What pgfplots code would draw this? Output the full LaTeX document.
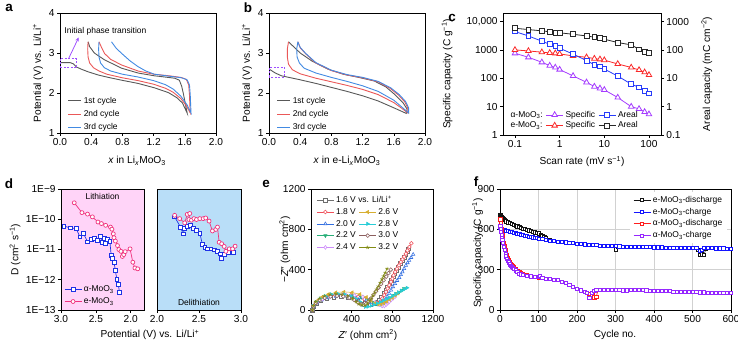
\documentclass[border=0pt]{standalone}
\usepackage{fontspec}
\setmainfont{Liberation Sans}
\usepackage{pgfplots}
\pgfplotsset{compat=1.18}
\usetikzlibrary{arrows.meta}

% galvanostatic cycles (a, b)
\definecolor{cyc1}{RGB}{88,88,88}
\definecolor{cyc2}{RGB}{234,88,88}
\definecolor{cyc3}{RGB}{66,138,226}
\definecolor{hl}{RGB}{160,80,255}
% rate capability (c)
\definecolor{aSpec}{RGB}{165,60,255}
\definecolor{eSpec}{RGB}{250,40,40}
\definecolor{aAreal}{RGB}{40,60,250}
\definecolor{eAreal}{RGB}{40,40,40}
% diffusion coefficients (d)
\definecolor{dBlue}{RGB}{30,50,230}
\definecolor{dPink}{RGB}{240,50,125}
\definecolor{bgPink}{RGB}{255,212,248}
\definecolor{bgBlue}{RGB}{185,222,248}
% impedance (e)
\definecolor{z16}{RGB}{110,110,110}
\definecolor{z18}{RGB}{240,80,90}
\definecolor{z20}{RGB}{50,110,225}
\definecolor{z22}{RGB}{40,175,120}
\definecolor{z24}{RGB}{205,140,250}
\definecolor{z26}{RGB}{215,175,50}
\definecolor{z28}{RGB}{40,205,215}
\definecolor{z30}{RGB}{140,95,95}
\definecolor{z32}{RGB}{130,140,20}
% cycling (f)
\definecolor{fBlack}{RGB}{20,20,20}
\definecolor{fBlue}{RGB}{20,20,255}
\definecolor{fRed}{RGB}{255,30,30}
\definecolor{fPurple}{RGB}{150,40,255}

\newcommand{\lab}{\fontsize{10.2}{12}\selectfont}
\newcommand{\leg}{\fontsize{8.5}{10}\selectfont}
\newcommand{\pan}{\fontsize{13.5}{14}\selectfont\bfseries}

\pgfplotsset{
  pan/.style={
    scale only axis, anchor=south west,
    axis line style={line width=0.55pt},
    every tick/.style={black, line width=0.55pt},
    tick align=outside, major tick length=3bp,
    xtick pos=bottom, ytick pos=left,
    tick label style={font=\lab, inner sep=2.2bp},
    label style={font=\lab},
    legend style={font=\leg, draw=none, fill=none},
    legend cell align=left,
  },
  cycleaxis/.style={
    pan, width=156bp, height=120bp,
    xmin=0, xmax=2, ymin=1, ymax=4,
    xtick={0,0.4,0.8,1.2,1.6,2}, xticklabels={0.0,0.4,0.8,1.2,1.6,2.0},
    ytick={1,2,3,4}, yticklabels={1,2,3,4},
    ylabel={Potential (V) vs. Li/Li\textsuperscript{+}},
    ylabel style={at={(axis description cs:-0.141,0.5)}, anchor=center},
    legend image code/.code={\draw[#1] (0bp,0bp) -- (13bp,0bp);},
    legend style={at={(axis description cs:0.03,0.335)}, anchor=north west, row sep=1.6bp},
  },
  cl/.style={line width=0.9pt},
  spec/.style={line width=0.8pt, mark=triangle*, mark size=3.2pt, mark options={fill=white, solid}},
  areal/.style={line width=0.8pt, mark=square*, mark size=2.4pt, mark options={fill=white, solid}},
  dsq/.style={dBlue, line width=0.7pt, mark=square*, mark size=1.9pt, mark options={fill=white}},
  dci/.style={dPink, line width=0.7pt, mark=*, mark size=2pt, mark options={fill=white}},
  zs/.style={line width=0.5pt, mark size=1.9pt, mark options={fill=white, line width=0.55pt, solid}},
  s16/.style={zs, z16, mark=square*},
  s18/.style={zs, z18, mark=*},
  s20/.style={zs, z20, mark=triangle*},
  s22/.style={zs, z22, mark=triangle*, mark options={rotate=180}},
  s24/.style={zs, z24, mark=diamond*},
  s26/.style={zs, z26, mark=triangle*, mark options={rotate=90}},
  s28/.style={zs, z28, mark=triangle*, mark options={rotate=-90}},
  s30/.style={zs, z30, mark=*},
  s32/.style={zs, z32, mark=star},
  fs/.style={line width=0.6pt, mark=square*, mark size=1.6pt, mark options={fill=white}},
}

\begin{document}
\begin{tikzpicture}
\useasboundingbox (0,0) rectangle (738bp,340bp);

% ---------------- a: alpha-MoO3 cycles ----------------
\begin{axis}[cycleaxis, at={(60bp,207bp)},
  xlabel={\textit{x} in Li\textsubscript{\textit{x}}MoO\textsubscript{3}},
  xlabel style={at={(axis description cs:0.494,-0.233)}, anchor=center}]
\addplot[cyc1, cl] coordinates {(0,2.76)(0.13,2.76)(0.17,2.73)(0.21,2.65)(0.28,2.59)(0.36,2.53)(0.49,2.45)(0.62,2.39)(0.79,2.32)(1.0,2.24)(1.21,2.13)(1.39,2.01)(1.5,1.88)(1.57,1.75)(1.63,1.5)
  (1.62,1.6)(1.6,1.8)(1.58,2.0)(1.56,2.17)(1.53,2.32)(1.47,2.37)(1.3,2.41)(1.21,2.43)(1.0,2.5)(0.79,2.62)(0.57,2.83)(0.44,3.0)(0.38,3.16)(0.36,3.28)};
\addlegendentry{1st cycle}
\addplot[cyc2, cl] coordinates {(0.36,3.28)(0.355,3.1)(0.36,2.9)(0.38,2.75)(0.43,2.63)(0.5,2.55)(0.6,2.47)(0.8,2.38)(1.0,2.31)(1.2,2.22)(1.35,2.12)(1.45,2.02)(1.55,1.86)(1.62,1.68)(1.67,1.5)
  (1.665,1.7)(1.66,1.95)(1.65,2.2)(1.62,2.34)(1.55,2.39)(1.4,2.43)(1.2,2.47)(1.0,2.55)(0.79,2.70)(0.65,2.84)(0.57,2.99)(0.53,3.15)(0.5,3.28)};
\addlegendentry{2nd cycle}
\addplot[cyc3, cl] coordinates {(0.5,3.28)(0.495,3.1)(0.5,2.9)(0.52,2.75)(0.57,2.63)(0.65,2.55)(0.8,2.47)(1.0,2.4)(1.2,2.31)(1.35,2.21)(1.45,2.1)(1.55,1.92)(1.63,1.7)(1.68,1.5)
  (1.675,1.7)(1.67,1.95)(1.66,2.2)(1.63,2.33)(1.56,2.38)(1.4,2.42)(1.21,2.47)(1.1,2.55)(1.0,2.66)(0.9,2.8)(0.79,2.99)(0.72,3.12)(0.66,3.28)};
\addlegendentry{3rd cycle}
\draw[hl, line width=0.7pt, dash pattern=on 2bp off 1.5bp] (axis cs:0,2.63) rectangle (axis cs:0.21,2.86);
\draw[hl, line width=0.8pt, -{Stealth[length=4bp,width=3.5bp]}] (axis cs:0.11,2.86) -- (axis cs:0.24,3.39);
\node[anchor=west, font=\leg, inner sep=0pt] at (axis cs:0.055,3.53) {Initial phase transition};
\end{axis}

% ---------------- b: e-MoO3 cycles ----------------
\begin{axis}[cycleaxis, at={(269bp,207bp)},
  xlabel={\textit{x} in e-Li\textsubscript{\textit{x}}MoO\textsubscript{3}},
  xlabel style={at={(axis description cs:0.5,-0.233)}, anchor=center}]
\addplot[cyc1, cl] coordinates {(0,2.6)(0.08,2.5)(0.16,2.43)(0.4,2.33)(0.6,2.24)(0.8,2.14)(1.0,2.04)(1.2,1.93)(1.4,1.8)(1.6,1.63)(1.76,1.49)
  (1.77,1.6)(1.72,1.75)(1.62,1.95)(1.5,2.15)(1.35,2.3)(1.15,2.39)(0.95,2.47)(0.75,2.6)(0.55,2.8)(0.4,3.0)(0.25,3.28)};
\addlegendentry{1st cycle}
\addplot[cyc2, cl] coordinates {(0.25,3.28)(0.235,3.1)(0.235,2.9)(0.25,2.72)(0.3,2.58)(0.4,2.48)(0.6,2.37)(0.8,2.28)(1.0,2.19)(1.2,2.09)(1.4,1.96)(1.6,1.76)(1.7,1.62)(1.78,1.5)
  (1.78,1.62)(1.74,1.78)(1.66,1.95)(1.55,2.12)(1.4,2.28)(1.2,2.38)(1.0,2.45)(0.8,2.56)(0.6,2.75)(0.47,2.98)(0.4,3.13)(0.37,3.28)};
\addlegendentry{2nd cycle}
\addplot[cyc3, cl] coordinates {(0.37,3.28)(0.355,3.1)(0.36,2.9)(0.39,2.75)(0.45,2.62)(0.6,2.5)(0.8,2.39)(1.0,2.29)(1.2,2.18)(1.4,2.04)(1.6,1.82)(1.72,1.62)(1.79,1.5)
  (1.79,1.63)(1.75,1.79)(1.67,1.96)(1.56,2.13)(1.4,2.29)(1.2,2.39)(1.0,2.46)(0.8,2.57)(0.6,2.76)(0.47,2.99)(0.4,3.14)(0.37,3.28)};
\addlegendentry{3rd cycle}
\draw[hl, line width=0.7pt, dash pattern=on 2bp off 1.5bp] (axis cs:0,2.4) rectangle (axis cs:0.2,2.63);
\end{axis}

% ---------------- c: rate capability ----------------
\begin{axis}[pan, at={(503bp,205bp)}, width=158bp, height=122bp,
  xmode=log, ymode=log, xmin=0.054, xmax=186, ymin=1, ymax=2e4,
  xminorticks=false, yminorticks=false,
  xtick={0.1,1,10,100}, xticklabels={0.1,1,10,100},
  ytick={1,10,100,1000,10000}, yticklabels={1,10,100,1000,10{,}000},
  xlabel={Scan rate (mV s\textsuperscript{−1})},
  xlabel style={at={(axis description cs:0.5,-0.219)}, anchor=center},
  ylabel={Specific capacity (C g\textsuperscript{−1})},
  ylabel style={at={(axis description cs:-0.354,0.5)}, anchor=center}]
\addplot[aSpec, spec] coordinates {(0.1,760)(0.2,550)(0.4,366)(0.6,280)(0.8,240)(1,203)(2,121)(4,72)(6,51)(8,44)(10,39)(20,21)(40,10)(60,8.3)(80,6.5)(100,5.4)};
\addplot[eSpec, spec] coordinates {(0.1,1000)(0.2,920)(0.4,830)(0.6,785)(0.8,760)(1,720)(2,615)(4,550)(6,495)(8,466)(10,435)(20,320)(40,240)(60,196)(80,163)(100,131)};
\end{axis}
\begin{axis}[pan, at={(503bp,205bp)}, width=158bp, height=122bp,
  xmode=log, ymode=log, xmin=0.054, xmax=186, ymin=0.1, ymax=2e3,
  axis y line*=right, axis x line=none, ytick pos=right, yticklabel pos=right,
  xminorticks=false, yminorticks=false,
  ytick={0.1,1,10,100,1000}, yticklabels={0.1,1,10,100,1000},
  ylabel={Areal capacity (mC cm\textsuperscript{−2})},
  ylabel style={at={(axis description cs:1.29,0.5)}, anchor=center},
  legend columns=3,
  legend style={at={(axis description cs:0.015,0.012)}, anchor=south west, row sep=-1bp,
    /tikz/every even column/.append style={column sep=1bp}}]
\addplot[aAreal, areal, forget plot] coordinates {(0.1,445)(0.2,310)(0.4,203)(0.6,158)(0.8,138)(1,115)(2,71)(4,42)(6,30)(8,26)(10,21)(20,12)(40,6.2)(60,4.8)(80,3.7)(100,2.95)};
\addplot[eAreal, areal, forget plot] coordinates {(0.1,580)(0.2,520)(0.4,470)(0.6,435)(0.8,410)(1,400)(2,355)(4,310)(6,280)(8,257)(10,238)(20,182)(40,150)(60,105)(80,87)(100,76)};
\addlegendimage{empty legend}\addlegendentry{α-MoO\textsubscript{3}:}
\addlegendimage{aSpec, spec}\addlegendentry{Specific}
\addlegendimage{aAreal, areal}\addlegendentry{Areal}
\addlegendimage{empty legend}\addlegendentry{e-MoO\textsubscript{3}:}
\addlegendimage{eSpec, spec}\addlegendentry{Specific}
\addlegendimage{eAreal, areal}\addlegendentry{Areal}
\end{axis}

% ---------------- d: diffusion coefficients ----------------
\begin{axis}[pan, at={(61bp,30bp)}, width=83bp, height=121bp,
  axis background/.style={fill=bgPink},
  x dir=reverse, xmin=1.81, xmax=3.0,
  ymode=log, ymin=1e-13, ymax=1e-9, yminorticks=false,
  xtick={2,2.5,3}, xticklabels={2.0,2.5,3.0},
  ytick={1e-13,1e-12,1e-11,1e-10,1e-9}, yticklabels={1E−13,1E−12,1E−11,1E−10,1E−9},
  ylabel={D (cm\textsuperscript{2} s\textsuperscript{−1})},
  ylabel style={at={(axis description cs:-0.554,0.5)}, anchor=center},
  xlabel={Potential (V) vs. Li/Li\textsuperscript{+}},
  xlabel style={at={(axis description cs:1.072,-0.207)}, anchor=center},
  legend style={at={(axis description cs:0.0,0.005)}, anchor=south west, row sep=0.5bp}]
\addplot[dsq] coordinates {(2.96,6.0e-11)(2.87,5.2e-11)(2.78,4.9e-11)(2.73,2.6e-11)(2.68,3.5e-11)(2.62,1.8e-11)(2.57,2.2e-11)(2.52,2.4e-11)(2.48,2.0e-11)(2.44,2.8e-11)(2.41,1.75e-11)(2.38,2.4e-11)(2.36,1.6e-11)(2.33,2.2e-11)(2.30,1.9e-11)(2.28,6.3e-12)(2.26,5.0e-12)(2.24,3.8e-12)(2.22,2.0e-12)(2.20,1.05e-12)(2.18,7.0e-13)(2.16,3.8e-13)};
\addlegendentry{α-MoO\textsubscript{3}}
\addplot[dci] coordinates {(2.81,3.5e-10)(2.70,1.66e-10)(2.62,1.48e-10)(2.55,1.2e-10)(2.47,8.1e-11)(2.42,7.2e-11)(2.36,6.3e-11)(2.29,5.5e-11)(2.27,4.7e-11)(2.25,3.3e-11)(2.24,2.45e-11)(2.22,1.9e-11)(2.19,1.35e-11)(2.17,1.0e-11)(2.14,8.7e-12)(2.12,5.9e-12)(2.10,6.8e-12)(2.08,8.5e-12)(2.01,1.05e-11)(1.97,3.8e-12)(1.94,2.45e-12)(1.90,2.3e-12)};
\addlegendentry{e-MoO\textsubscript{3}}
\node[font=\leg] at (axis description cs:0.5,0.942) {Lithiation};
\end{axis}
\begin{axis}[pan, at={(157bp,30bp)}, width=84bp, height=121bp,
  axis background/.style={fill=bgBlue},
  xmin=2, xmax=3.0,
  ymode=log, ymin=1e-13, ymax=1e-9, yminorticks=false, ytick=\empty,
  xtick={2,2.5,3}, xticklabels={2.0,2.5,3.0}]
\addplot[dsq] coordinates {(2.21,1.2e-10)(2.28,5.5e-11)(2.31,3.3e-11)(2.33,4.9e-11)(2.36,5.9e-11)(2.40,6.3e-11)(2.43,4.9e-11)(2.47,4.3e-11)(2.51,3.5e-11)(2.54,1.48e-11)(2.57,1.2e-11)(2.60,1.05e-11)(2.64,1.05e-11)(2.68,9.8e-12)(2.72,8.7e-12)(2.75,7.2e-12)(2.77,5.2e-12)(2.80,6.8e-12)(2.85,8.1e-12)(2.91,8.1e-12)};
\addplot[dci] coordinates {(2.21,1.35e-10)(2.27,1.05e-10)(2.33,7.6e-11)(2.36,1.45e-10)(2.39,1.55e-10)(2.38,9.8e-11)(2.41,9.3e-11)(2.44,1.05e-10)(2.47,9.8e-11)(2.51,1.05e-10)(2.55,1.05e-10)(2.58,1.1e-10)(2.62,8.7e-11)(2.66,4.1e-11)(2.70,4.6e-11)(2.72,5.5e-11)(2.74,1.74e-11)(2.77,1.55e-11)(2.80,1.26e-11)(2.82,8.7e-12)(2.86,1.05e-11)(2.90,1.05e-11)(2.93,1.29e-11)};
\node[font=\leg] at (axis description cs:0.5,0.066) {Delithiation};
\end{axis}

% ---------------- e: impedance spectra ----------------
\begin{axis}[pan, at={(311bp,30bp)}, width=122bp, height=121bp, clip=false,
  xmin=0, xmax=1200, ymin=0, ymax=1200,
  xtick={0,400,800,1200}, xticklabels={0,400,800,1200},
  ytick={0,400,800,1200}, yticklabels={0,400,800,1200},
  xlabel={\textit{Z}′ (ohm cm\textsuperscript{2})},
  xlabel style={at={(axis description cs:0.467,-0.207)}, anchor=center},
  ylabel={−\textit{Z}″ (ohm cm\textsuperscript{2})},
  ylabel style={at={(axis description cs:-0.215,0.5)}, anchor=center},
  legend columns=2,
  legend style={at={(axis description cs:0.02,0.975)}, anchor=north west, row sep=0.4bp,
    /tikz/every even column/.append style={column sep=1bp}}]
\addplot[s16, forget plot] coordinates {(15,0)(25,35)(53,68)(97,95)(155,117)(223,130)(295,135)(367,130)(435,117)(493,95)(537,72)(580,60)(620,68)(650,82)(673,100)(695,132)(715,165)(735,198)(754,230)(775,262)(793,295)(810,330)(825,360)(842,395)(858,426)(880,460)(900,492)(918,520)(933,548)(945,578)(955,608)};
\addplot[s18, forget plot] coordinates {(15,0)(25,39)(55,75)(103,106)(165,130)(238,145)(315,150)(392,145)(465,130)(527,106)(575,80)(615,66)(650,70)(680,85)(700,115)(721,148)(737,180)(754,213)(770,246)(787,279)(800,310)(812,344)(828,377)(845,410)(865,443)(884,476)(900,502)(916,528)(933,558)(949,590)(968,625)(988,662)};
\addplot[s20, forget plot] coordinates {(15,0)(26,36)(57,70)(106,99)(170,121)(245,135)(325,140)(405,135)(480,121)(544,99)(593,72)(640,62)(680,68)(715,82)(732,107)(748,131)(768,164)(787,197)(806,230)(826,262)(847,292)(868,321)(884,350)(900,377)(916,410)(933,443)(950,468)(965,492)(985,520)(1005,551)};
\addplot[s22, forget plot] coordinates {(15,0)(26,38)(58,73)(108,103)(175,126)(252,140)(335,145)(418,140)(495,126)(562,103)(612,75)(650,58)(690,50)(728,59)(750,78)(770,98)(795,122)(819,145)(843,162)(868,178)(893,195)(915,212)};
\addplot[s24, forget plot] coordinates {(15,0)(26,39)(59,75)(111,106)(180,130)(260,145)(345,150)(430,145)(510,130)(579,106)(631,77)(670,52)(700,40)(721,40)(738,52)(754,66)(770,82)(787,98)(806,115)(826,131)};
\addplot[s26, forget plot] coordinates {(15,0)(26,47)(57,90)(106,127)(170,156)(245,174)(325,180)(405,174)(480,156)(544,127)(593,92)(630,68)(660,56)(690,58)(718,68)(745,84)(772,103)(800,122)(828,143)(855,165)};
\addplot[s28, forget plot] coordinates {(15,0)(24,41)(49,80)(88,113)(140,139)(201,155)(265,160)(330,155)(390,139)(442,113)(482,82)(510,50)(535,32)(560,33)(590,42)(620,53)(650,66)(680,80)(710,94)(740,108)(770,123)(800,139)(830,157)(860,175)(890,192)(918,206)(944,220)};
\addplot[s30, forget plot] coordinates {(15,0)(23,36)(47,70)(85,99)(135,121)(193,135)(255,140)(317,135)(375,121)(425,99)(463,72)(492,56)(518,52)(542,62)(565,85)(590,115)(615,150)(640,185)(665,222)(690,258)(715,295)(740,332)(762,365)(785,400)};
\addplot[s32, forget plot] coordinates {(15,0)(23,41)(46,80)(82,113)(130,139)(186,155)(245,160)(304,155)(360,139)(408,113)(444,82)(470,60)(500,50)(530,47)(555,65)(575,90)(592,115)(610,145)(628,175)(645,205)(662,235)(680,270)(697,305)(713,335)(730,370)(748,410)};
\addlegendimage{s16}\addlegendentry{\rlap{1.6 V vs. Li/Li\textsuperscript{+}}}
\addlegendimage{empty legend}\addlegendentry{}
\addlegendimage{s18}\addlegendentry{1.8 V}
\addlegendimage{s26}\addlegendentry{2.6 V}
\addlegendimage{s20}\addlegendentry{2.0 V}
\addlegendimage{s28}\addlegendentry{2.8 V}
\addlegendimage{s22}\addlegendentry{2.2 V}
\addlegendimage{s30}\addlegendentry{3.0 V}
\addlegendimage{s24}\addlegendentry{2.4 V}
\addlegendimage{s32}\addlegendentry{3.2 V}
\end{axis}

% ---------------- f: long-term cycling ----------------
\begin{axis}[pan, at={(500bp,30bp)}, width=231bp, height=121bp,
  xmin=0, xmax=600, ymin=0, ymax=900,
  grid=major, grid style={line width=0.5pt, black!18},
  xtick={0,100,200,300,400,500,600}, xticklabels={0,100,200,300,400,500,600},
  ytick={0,300,600,900}, yticklabels={0,300,600,900},
  xlabel={Cycle no.},
  xlabel style={at={(axis description cs:0.498,-0.207)}, anchor=center},
  ylabel={Specific capacity (C g\textsuperscript{−1})},
  ylabel style={at={(axis description cs:-0.097,0.47)}, anchor=center},
  legend style={at={(axis description cs:0.985,0.975)}, anchor=north east, fill=white, row sep=0.2bp}]
\addplot[fBlack, fs] coordinates {(1,706)(3,700)(5,692)(8,684)(10,676)(13,668)(16,660)(20,652)(25,646)(30,640)(35,634)(40,628)(45,622)(50,617)(55,612)(60,607)(65,602)(70,598)(75,593)(80,588)(85,583)(90,578)(95,574)(100,570)(105,562)(110,553)(115,543)(120,535)(130,522)(140,515)(150,510)(160,506)(170,503)(180,500)(190,497)(200,495)(210,492)(220,489)(230,487)(240,485)(250,482)(260,480)(270,478)(280,477)(290,476)(295,475)(300,452)(305,474)(310,474)(320,473)(330,472)(340,471)(350,470)(360,469)(370,469)(380,468)(390,468)(400,467)(410,466)(420,466)(430,465)(440,465)(450,464)(460,464)(470,463)(480,463)(490,462)(500,462)(510,461)(515,450)(520,410)(525,415)(530,412)(535,455)(540,460)(550,460)(560,459)(570,459)(580,459)(590,458)(600,458)};
\addlegendentry{e-MoO\textsubscript{3}-discharge}
\addplot[fBlue, fs] coordinates {(1,612)(3,608)(5,603)(8,598)(10,596)(13,593)(16,590)(20,588)(25,584)(30,580)(35,576)(40,572)(45,568)(50,565)(55,561)(60,557)(65,553)(70,550)(75,547)(80,544)(85,541)(90,538)(95,535)(100,532)(110,527)(120,522)(130,517)(140,513)(150,510)(160,506)(170,503)(180,500)(190,497)(200,495)(210,491)(220,489)(230,486)(240,484)(250,482)(260,480)(270,478)(280,477)(290,476)(300,475)(310,474)(320,473)(330,472)(340,471)(350,470)(360,469)(370,469)(380,468)(390,468)(400,467)(410,466)(420,466)(430,465)(440,465)(450,464)(460,464)(470,463)(480,463)(490,462)(500,462)(510,461)(520,440)(525,445)(530,460)(540,460)(550,460)(560,459)(570,459)(580,459)(590,458)(600,458)};
\addlegendentry{e-MoO\textsubscript{3}-charge}
\addplot[fRed, fs] coordinates {(1,675)(2,650)(3,625)(4,600)(5,580)(6,560)(8,530)(10,500)(12,475)(14,450)(16,430)(18,410)(20,390)(22,372)(25,355)(28,342)(30,335)(33,325)(36,318)(40,305)(45,292)(50,280)(55,273)(60,268)(70,258)(80,250)(90,245)(100,243)(104,252)(110,240)(120,235)(130,230)(140,226)(150,222)(160,212)(170,200)(180,186)(190,172)(200,160)(210,146)(220,135)(225,125)(230,122)(240,128)(245,95)(250,100)(255,148)(260,152)(270,150)(280,150)(290,149)(300,148)(310,148)(320,147)(330,146)(340,148)(350,152)(360,150)(370,148)(380,146)(390,145)(400,145)(410,143)(420,142)(430,140)(440,140)(450,138)(460,137)(470,136)(480,135)(490,134)(500,134)(510,133)(520,132)(530,131)(540,130)(550,130)(560,129)(570,128)(580,128)(590,127)(600,126)};
\addlegendentry{α-MoO\textsubscript{3}-discharge}
\addplot[fPurple, fs] coordinates {(1,622)(2,600)(3,580)(4,560)(5,540)(6,525)(8,500)(10,470)(12,445)(14,420)(16,400)(18,382)(20,368)(22,355)(25,340)(28,328)(30,320)(33,312)(36,305)(40,295)(45,283)(50,272)(55,266)(60,262)(70,255)(80,250)(90,246)(100,244)(104,252)(110,240)(120,235)(130,230)(140,226)(150,222)(160,212)(170,200)(180,186)(190,172)(200,160)(210,146)(220,135)(225,125)(232,92)(238,128)(245,140)(250,150)(260,152)(270,150)(280,150)(290,149)(300,148)(310,148)(320,147)(330,146)(340,148)(350,152)(360,150)(370,148)(380,146)(390,145)(400,145)(410,143)(420,142)(430,140)(440,140)(450,138)(460,137)(470,136)(480,135)(490,134)(500,134)(510,133)(520,132)(530,131)(540,130)(550,130)(560,129)(570,128)(580,128)(590,127)(600,126)};
\addlegendentry{α-MoO\textsubscript{3}-charge}
\end{axis}

% panel letters
\node[font=\pan] at (9bp,332bp) {a};
\node[font=\pan] at (248bp,332bp) {b};
\node[font=\pan] at (452bp,322bp) {c};
\node[font=\pan] at (9bp,156bp) {d};
\node[font=\pan] at (266bp,156bp) {e};
\node[font=\pan] at (476bp,158bp) {f};
\end{tikzpicture}
\end{document}
